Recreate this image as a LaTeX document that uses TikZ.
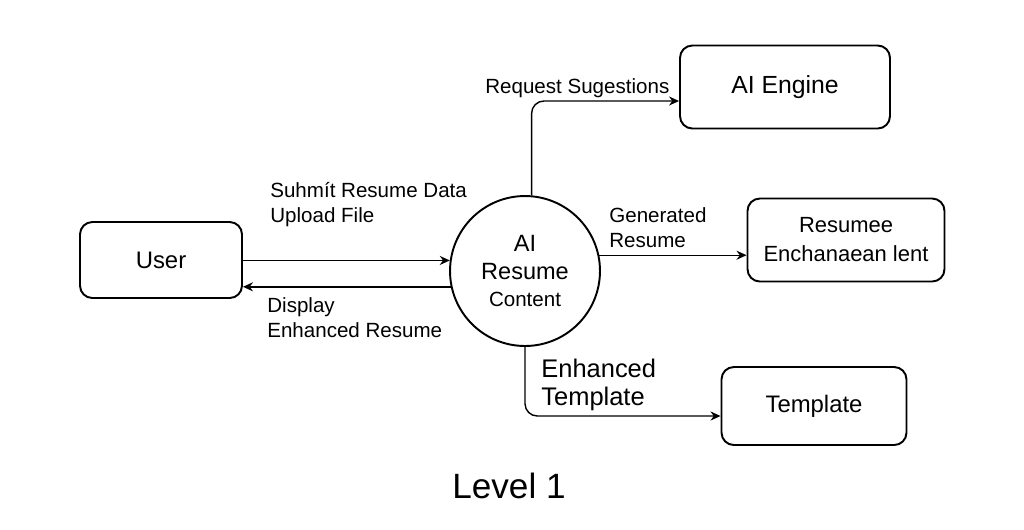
\documentclass[tikz,border=0pt]{standalone}
\usepackage{fontspec}
\setmainfont{Liberation Sans}
\usetikzlibrary{arrows.meta,calc,positioning}

\begin{document}
\begin{tikzpicture}[x=0.02cm,y=-0.02cm,
  box/.style={draw,line width=1.1pt,rounded corners=7pt,align=center,font=\fontsize{13.6}{15.5}\selectfont},
  flow/.style={-{Stealth[length=2mm,width=1.8mm]},line width=0.8pt},
  lbl/.style={anchor=base west,inner sep=0pt,align=left,font=\fontsize{11.7}{13.7}\selectfont}]
  \useasboundingbox (0,0) rectangle (1024,529);
  % boxes and the process
  \node[box,minimum width=3.24cm,minimum height=1.52cm] (user) at (161,260) {User};
  \node[circle,draw,line width=1.1pt,minimum size=3cm,inner sep=0pt,align=center,
        font=\fontsize{13.4}{15.4}\selectfont] (proc) at (525,271)
        {AI\\Resume\\{\fontsize{11.7}{15.4}\selectfont Content}};
  \node[box,minimum width=4.2cm,minimum height=1.66cm,font=\fontsize{14.1}{16}\selectfont] (ai) at (785,87) {AI Engine};
  \node[box,minimum width=3.94cm,minimum height=1.66cm,font=\fontsize{12.5}{16.5}\selectfont] (res) at (846,240) {Resumee\\Enchanaean lent};
  \node[box,minimum width=3.7cm,minimum height=1.56cm] (tpl) at (814,406) {Template};
  % flows
  \draw[flow] (proc.172 -| user.east) -- (proc.172);
  \draw[flow] (proc.192) -- (proc.192 -| user.east);
  \draw[flow,rounded corners=7pt] (proc.85) |- ($(ai.west)+(0,14)$);
  \draw[flow] (proc.12) -- (proc.12 -| res.west);
  \draw[flow,rounded corners=7pt] (proc.south) |- ($(tpl.west)+(0,10)$);
  % labels
  \node[lbl] (submit) at (270,222) {Suhmít Resume Data\\Upload File};
  \node[lbl] (display) at (267,337) {Display\\Enhanced Resume};
  \node[lbl] (request) at (485,93) {Request Sugestions};
  \node[lbl] (gen) at (609,247) {Generated\\Resume};
  \node[lbl,font=\fontsize{14.5}{15.5}\selectfont] (enh) at (541,405) {Enhanced\\Template};
  \node[font=\fontsize{20}{24}\selectfont] (title) at (509,486) {Level 1};
\end{tikzpicture}
\end{document}
